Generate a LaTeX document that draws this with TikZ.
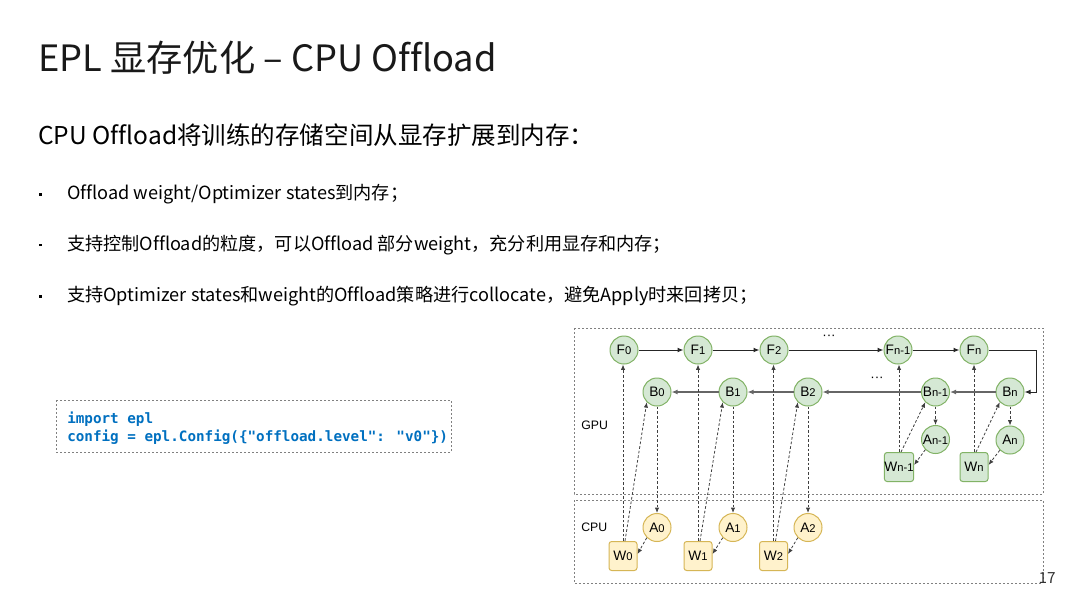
\documentclass[tikz,border=0pt]{standalone}
\usepackage{fontspec}
\setmainfont{Noto Sans CJK SC}[Ligatures=NoCommon]
\newfontfamily\cjk{Noto Sans CJK SC}[Ligatures=NoCommon]
\newfontfamily\diag{Liberation Sans}
\newfontfamily\codefont{DejaVu Sans Mono}
\usetikzlibrary{arrows.meta,calc}
\definecolor{gfill}{HTML}{D5E8D4}
\definecolor{gline}{HTML}{82B366}
\definecolor{yfill}{HTML}{FFF2CC}
\definecolor{yline}{HTML}{D6B656}
\definecolor{codeblue}{HTML}{0070C0}
\definecolor{boxgray}{HTML}{808080}
\newcommand{\lab}[2]{{\fontsize{10.3pt}{11pt}\selectfont #1}{\fontsize{8.4pt}{9pt}\selectfont #2}}
\begin{document}
\begin{tikzpicture}[x=0.75pt,y=-0.75pt,
  gnode/.style={circle,draw=gline,fill=gfill,line width=0.75pt,minimum size=21pt,inner sep=0pt,font=\diag},
  ynode/.style={circle,draw=yline,fill=yfill,line width=0.75pt,minimum size=21pt,inner sep=0pt,font=\diag},
  gbox/.style={rectangle,rounded corners=2pt,draw=gline,fill=gfill,line width=0.75pt,minimum width=21pt,minimum height=21.75pt,inner sep=0pt,font=\diag},
  ybox/.style={rectangle,rounded corners=2pt,draw=yline,fill=yfill,line width=0.75pt,minimum width=21pt,minimum height=21.75pt,inner sep=0pt,font=\diag},
  region/.style={draw=boxgray,line width=0.6pt,dash pattern=on 1.5pt off 1.5pt},
  solidarrow/.style={draw=black!85,line width=0.75pt,-{Latex[length=4.5pt,width=3.6pt]}},
  backarrow/.style={draw=black!60,line width=0.9pt,-{Latex[length=4.5pt,width=3.6pt]}},
  dasharrow/.style={draw=black!75,line width=0.6pt,dash pattern=on 2pt off 1.5pt,-{Latex[length=4pt,width=3.2pt]}},
  bullettext/.style={anchor=base west,inner sep=0pt,font=\cjk\fontsize{13.6pt}{15pt}\selectfont}
]
\useasboundingbox[fill=white] (0,0) rectangle (1080,607);

% Title and texts
\node[anchor=base west,inner sep=0pt,text=black!90,font=\cjk\fontsize{27.2pt}{32pt}\selectfont] (title) at (38,71) {EPL 显存优化 – CPU Offload};
\node[anchor=base west,inner sep=0pt,font=\cjk\fontsize{18.4pt}{22pt}\selectfont] (sub) at (38,144) {CPU Offload将训练的存储空间从显存扩展到内存：};

\fill (39,193) rectangle (41.5,195.5);
\node[bullettext] (b1) at (67,199) {Offload weight/Optimizer states到内存；};
\fill (39,243.5) rectangle (41.5,246);
\node[bullettext] (b2) at (67,250) {支持控制Offload的粒度，可以Offload 部分weight，充分利用显存和内存；};
\fill (39,295) rectangle (41.5,297.5);
\node[bullettext] (b3) at (67,301) {支持Optimizer states和weight的Offload策略进行collocate，避免Apply时来回拷贝；};

% code box
\draw[region] (56,400) rectangle (451,452);
\node[anchor=base west,inner sep=0pt,text=codeblue,font=\codefont\bfseries\fontsize{10.7pt}{13pt}\selectfont] (c1) at (67,423) {import epl};
\node[anchor=base west,inner sep=0pt,text=codeblue,font=\codefont\bfseries\fontsize{10.7pt}{13pt}\selectfont] (c2) at (67,441) {config = epl.Config(\{"offload.level": "v0"\})};

% regions
\draw[region] (574,328) rectangle (1043,494);
\draw[region] (574,500) rectangle (1043,583);
\node[anchor=west,inner sep=0pt,font=\diag\fontsize{9.2pt}{10pt}\selectfont] (gpu) at (581,425) {GPU};
\node[anchor=west,inner sep=0pt,font=\diag\fontsize{9.2pt}{10pt}\selectfont] (cpu) at (581,527) {CPU};

% F nodes
\node[gnode] (F0) at (624,350) {\lab{F}{0}};
\node[gnode] (F1) at (698,350) {\lab{F}{1}};
\node[gnode] (F2) at (774,350) {\lab{F}{2}};
\node[gnode] (Fm) at (898,350) {\lab{F}{n-1}};
\node[gnode] (Fn) at (974,350) {\lab{F}{n}};
% B nodes
\node[gnode] (B0) at (657,392) {\lab{B}{0}};
\node[gnode] (B1) at (733,392) {\lab{B}{1}};
\node[gnode] (B2) at (808,392) {\lab{B}{2}};
\node[gnode] (Bm) at (935.5,392) {\lab{B}{n-1}};
\node[gnode] (Bn) at (1010,392) {\lab{B}{n}};
% GPU A and W
\node[gnode] (Am) at (935.5,439.5) {\lab{A}{n-1}};
\node[gnode] (An) at (1010,440) {\lab{A}{n}};
\node[gbox] (Wm) at (899,467) {\lab{W}{n-1}};
\node[gbox] (Wn) at (974,467) {\lab{W}{n}};
% CPU
\node[ynode] (A0) at (657,527.5) {\lab{A}{0}};
\node[ynode] (A1) at (733,527.5) {\lab{A}{1}};
\node[ynode] (A2) at (808,527.5) {\lab{A}{2}};
\node[ybox] (W0) at (623,556) {\lab{W}{0}};
\node[ybox] (W1) at (698,556) {\lab{W}{1}};
\node[ybox] (W2) at (773.5,556) {\lab{W}{2}};

% ellipses
\node[inner sep=0pt,font=\diag\fontsize{10pt}{10pt}\selectfont] (dots1) at (829,337) {···};
\node[inner sep=0pt,font=\diag\fontsize{10pt}{10pt}\selectfont] (dots2) at (877,379) {···};

% forward chain
\draw[solidarrow] (F0) -- (F1);
\draw[solidarrow] (F1) -- (F2);
\draw[solidarrow] (F2) -- (Fm);
\draw[solidarrow] (Fm) -- (Fn);
\coordinate (turn1) at (1036,350);
\coordinate (turn2) at (1036,392);
\draw[solidarrow] (Fn.east) -- (turn1) -- (turn2) -- (Bn.east);
% backward chain
\draw[backarrow] (Bn) -- (Bm);
\draw[backarrow] (Bm) -- (B2);
\draw[backarrow] (B2) -- (B1);
\draw[backarrow] (B1) -- (B0);

% dashed connections
\foreach \w/\f/\b/\a in {W0/F0/B0/A0, W1/F1/B1/A1, W2/F2/B2/A2, Wm/Fm/Bm/Am, Wn/Fn/Bn/An}{
  \draw[dasharrow] (\w.north) -- (\w.north |- \f.south);
  \draw[dasharrow] ($(\w.north)+(2,0)$) -- (\b.225);
  \draw[dasharrow] (\b.south) -- (\a.north);
  \draw[dasharrow] (\a.225) -- ($(\w.east)+(0,-2)$);
}

% page number
\node[anchor=base east,inner sep=0pt,text=black!80,font=\cjk\fontsize{11.5pt}{13pt}\selectfont] (pnum) at (1056,583) {17};
\end{tikzpicture}
\end{document}
